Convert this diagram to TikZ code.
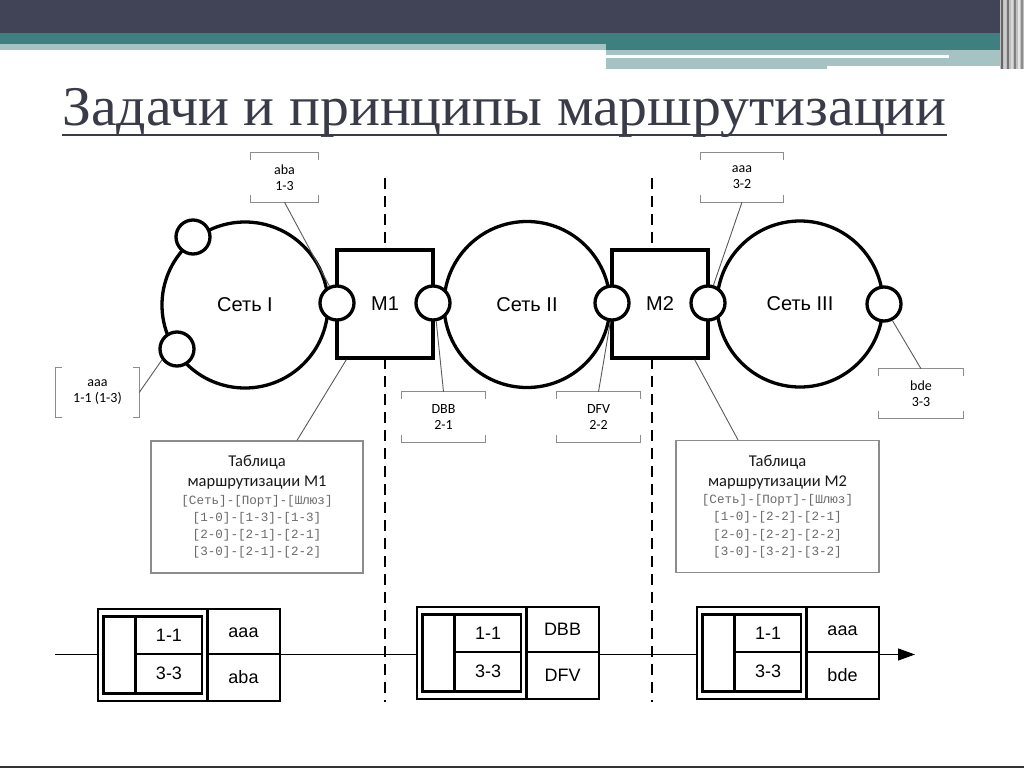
\documentclass[tikz,border=0pt]{standalone}
\usepackage{fontspec}
\setmainfont{Liberation Sans}
\newfontfamily\titlefont{Liberation Serif}
\newfontfamily\calfont{Carlito}
\newfontfamily\monofnt{Liberation Mono}
\usetikzlibrary{arrows.meta}
\definecolor{hdark}{HTML}{414356}
\definecolor{hteal}{HTML}{3E7F80}
\definecolor{hlight}{HTML}{A6C3C4}
\definecolor{titlecol}{HTML}{3A3B48}
\definecolor{monocol}{HTML}{6A6A6A}
\newcommand\hbrk[1]{%
  \draw[brk] ([yshift=-7pt]#1.north west) -- (#1.north west) -- (#1.north east) -- ([yshift=-7pt]#1.north east);
  \draw[brk] ([yshift=7pt]#1.south west) -- (#1.south west) -- (#1.south east) -- ([yshift=7pt]#1.south east);}
\newcommand\vbrk[1]{%
  \draw[brk] ([xshift=6pt]#1.north west) -- (#1.north west) -- (#1.south west) -- ([xshift=6pt]#1.south west);
  \draw[brk] ([xshift=-6pt]#1.north east) -- (#1.north east) -- (#1.south east) -- ([xshift=-6pt]#1.south east);}
\newcommand\pkt[5]{%
  \draw[pk,fill=white] (#2,#3) rectangle (#2+182,#3+92);
  \draw[pk] (#2+5.5,#3+7.5) rectangle (#2+104,#3+84.5);
  \draw[pk] (#2+37.5,#3+7.5) -- (#2+37.5,#3+84.5);
  \draw[pk] (#2+37.5,#3+45) -- (#2+104,#3+45);
  \draw[pk] (#2+109.5,#3) -- (#2+109.5,#3+92);
  \draw[pk] (#2+109.5,#3+45) -- (#2+182,#3+45);
  \node[ptxt] (#1a) at (#2+71,#3+32.5) {1-1};
  \node[ptxt] (#1b) at (#2+71,#3+70) {3-3};
  \node[ptxt] (#1c) at (#2+145.5,#3+28) {#4};
  \node[ptxt] (#1d) at (#2+145.5,#3+74) {#5};}
\newcommand\ttl[1]{{\calfont\fontsize{16.5}{20}\selectfont\color{black!90}#1}}
\begin{document}
\begin{tikzpicture}[x=1pt,y=-1pt,
  thickl/.style={line width=3.3pt},
  net/.style={circle,draw,thickl,minimum size=166pt,inner sep=0pt,font=\fontsize{20}{24}\selectfont},
  router/.style={rectangle,draw,thickl,fill=white,minimum width=96pt,minimum height=108pt,inner sep=0pt,font=\fontsize{20}{24}\selectfont},
  port/.style={circle,draw,thickl,fill=white,minimum size=34pt,inner sep=0pt},
  lbl/.style={inner sep=0pt,align=center,font=\calfont\fontsize{14}{16}\selectfont},
  brk/.style={draw=black!45,line width=1.2pt},
  conn/.style={draw=black!65,line width=0.9pt},
  tbl/.style={draw=black!45,line width=1.2pt,fill=white,inner sep=0pt,align=center,minimum height=132pt,
     font=\monofnt\fontsize{12.6}{17.3}\selectfont,text=monocol},
  pk/.style={line width=2.8pt},
  ptxt/.style={anchor=base,inner sep=0pt,font=\fontsize{18}{20}\selectfont},
  dsh/.style={line width=1.5pt,dash pattern=on 11pt off 7pt}
]
\useasboundingbox (0,0) rectangle (1024,768);
% header
\fill[hdark] (0,0) rectangle (1024,33);
\fill[hteal] (0,33) rectangle (1000,44);
\fill[hteal] (606,44) rectangle (1000,50);
\fill[hlight] (0,44) rectangle (606,50);
\fill[hlight] (606,50) rectangle (1000,66);
\fill[hlight] (606,66) rectangle (827,69);
\fill[white] (606,55) rectangle (949,58);
\fill[black!25] (1000,0) rectangle (1024,69);
\foreach \xx/\cc in {1001/black!60,1004/black!20,1007/black!55,1011/black!15,1014/black!50,1018/black!10,1021/black!45}
  \fill[\cc] (\xx,0) rectangle (\xx+1.5,69);
\fill[black!80] (0,766) rectangle (1024,768);
% title
\node[anchor=base west,inner sep=0pt,text=titlecol,font=\titlefont\fontsize{56}{60}\selectfont] (title) at (62,125) {\scalebox{1.032}[1]{Задачи и принципы маршрутизации}};
\draw[titlecol,line width=2pt] ([yshift=-10pt]title.base west) -- ([yshift=-10pt]title.base east);
% dashed separators
\coordinate (d1t) at (385,178); \coordinate (d1b) at (385,702);
\coordinate (d2t) at (652,178); \coordinate (d2b) at (652,702);
\draw[dsh] (d1t) -- (d1b);
\draw[dsh] (d2t) -- (d2b);
% main line
\coordinate (ls) at (55,654.5); \coordinate (le) at (915,654.5);
\draw[line width=1.2pt,-{Triangle[length=17pt,width=12pt]}] (ls) -- (le);
% networks
\node[net] (n1) at (245,305) {Сеть I};
\node[net] (n2) at (527,304.5) {Сеть II};
\node[net] (n3) at (800,304) {Сеть III};
% routers
\node[router] (m1) at (385,304) {M1};
\node[router] (m2) at (660,304) {M2};
% ports
\node[port] (p1) at (337,303) {};
\node[port] (p2) at (433,303) {};
\node[port] (p3) at (612,303) {};
\node[port] (p4) at (708,303) {};
\node[port] (p5) at (884,304) {};
\node[port] (s1) at (193,237) {};
\node[port] (s2) at (177,349) {};
% labels
\node[lbl,minimum width=67pt,minimum height=49pt] (la) at (284.5,177.5) {aba\\1-3};
\node[lbl,minimum width=83pt,minimum height=49pt] (lb) at (97.5,392.5) {aaa\\1-1 (1-3)};
\node[lbl,minimum width=83pt,minimum height=50pt] (lc) at (443.5,417) {DBB\\2-1};
\node[lbl,minimum width=83pt,minimum height=50pt] (ld) at (598.5,417) {DFV\\2-2};
\node[lbl,minimum width=82pt,minimum height=49pt] (le2) at (742,177.5) {aaa\\3-2};
\node[lbl,minimum width=84pt,minimum height=49pt] (lf) at (921,393.5) {bde\\3-3};
\hbrk{la} \vbrk{lb} \hbrk{lc} \hbrk{ld} \hbrk{le2} \hbrk{lf}
\draw[conn] (la.south) -- (p1.114);
\draw[conn] (lb.east) -- (s2.216);
\draw[conn] (lc.north) -- (p2.-80);
\draw[conn] (ld.north) -- (p3.-95);
\draw[conn] (le2.south) -- (p4.73);
\draw[conn] (lf.north) -- (p5.-63);
% tables
\node[tbl,minimum width=212pt] (t1) at (257,507) {\ttl{Таблица}\\[2.7pt]\ttl{маршрутизации М1}\\{}[Сеть]-[Порт]-[Шлюз]\\{}[1-0]-[1-3]-[1-3]\\{}[2-0]-[2-1]-[2-1]\\{}[3-0]-[2-1]-[2-2]};
\node[tbl,minimum width=203pt] (t2) at (777.5,506.5) {\ttl{Таблица}\\[2.7pt]\ttl{маршрутизации М2}\\{}[Сеть]-[Порт]-[Шлюз]\\{}[1-0]-[2-2]-[2-1]\\{}[2-0]-[2-2]-[2-2]\\{}[3-0]-[3-2]-[3-2]};
\draw[conn] ([xshift=11pt]m1.south west) -- ([xshift=40pt]t1.north);
\draw[conn] ([xshift=-15pt]m2.south east) -- ([xshift=-39.5pt]t2.north);
% packets
\pkt{ka}{98}{609}{aaa}{aba}
\pkt{kb}{417}{607}{DBB}{DFV}
\pkt{kc}{697}{607}{aaa}{bde}
\end{tikzpicture}
\end{document}
